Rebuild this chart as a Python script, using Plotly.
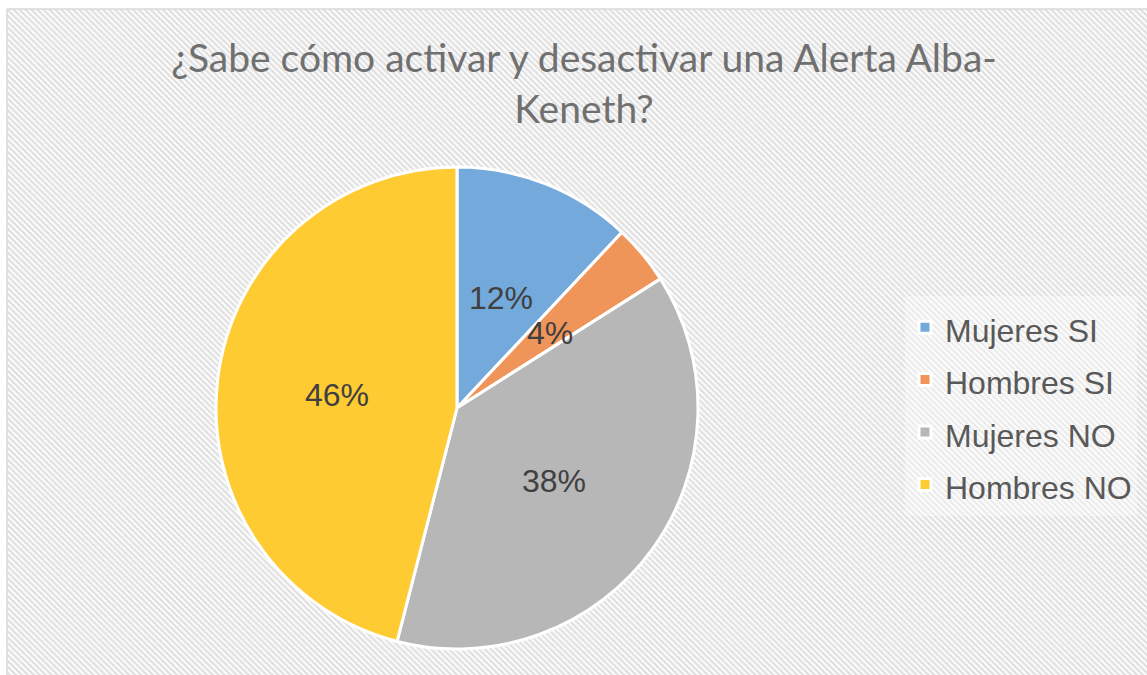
import base64
import math

import plotly.graph_objects as go

# Data
categories = ["Mujeres SI", "Hombres SI", "Mujeres NO", "Hombres NO"]
percentages = [12, 4, 38, 46]
slice_colors = ["#74a9dc", "#f0955a", "#b7b7b7", "#ffcb33"]

title_text = "¿Sabe cómo activar y desactivar una Alerta Alba-<br>Keneth?"

W, H = 1147, 675

# Hatched chart-area background, as an svg pattern
hatch_svg = f"""<svg xmlns='http://www.w3.org/2000/svg' width='{W}' height='{H}'>
<defs><pattern id='p' patternUnits='userSpaceOnUse' width='6' height='6'>
<rect width='6' height='6' fill='#ffffff'/>
<path d='M-1,-1 L7,7 M-1,5 L1,7 M5,-1 L7,1' stroke='#e0e0e0' stroke-width='2.3'/>
</pattern></defs>
<rect x='0' y='0' width='{W}' height='{H}' fill='url(#p)'/>
</svg>"""
hatch_uri = "data:image/svg+xml;base64," + base64.b64encode(hatch_svg.encode()).decode()

# pie geometry (pixels), converted to paper coordinates
cx, cy, r = 457, 408, 241

fig = go.Figure(
    go.Pie(
        labels=[f"<span style='font-size:32px'>{c}</span>" for c in categories],
        values=percentages,
        sort=False,
        direction="clockwise",
        rotation=0,
        marker=dict(colors=slice_colors, line=dict(color="white", width=3)),
        textinfo="none",
        hoverinfo="label+percent",
        domain=dict(x=[(cx - r) / W, (cx + r) / W],
                    y=[1 - (cy + r) / H, 1 - (cy - r) / H]),
    )
)

# data labels, Excel style: half a radius out along each slice's bisector
total = sum(percentages)
cum = 0
for p in percentages:
    mid = (cum + p / 2) / total * 2 * math.pi
    cum += p
    lx = cx + 0.5 * r * math.sin(mid)
    ly = cy - 0.5 * r * math.cos(mid) + 2
    fig.add_annotation(
        x=lx / W, y=1 - ly / H, xref="paper", yref="paper",
        xanchor="center", yanchor="middle",
        text=f"{round(p / total * 100)}%", showarrow=False,
        font=dict(family="Liberation Sans, Arial", size=32, color="#404040"),
    )

fig.update_layout(
    width=W,
    height=H,
    margin=dict(l=0, r=0, t=0, b=0),
    paper_bgcolor="white",
    title=dict(
        text=title_text,
        x=584 / W,
        xanchor="center",
        y=1 - 72 / H,
        yanchor="top",
        font=dict(family="Lato", size=39, color="#707070"),
    ),
    legend=dict(
        x=905 / W,
        xanchor="left",
        y=1 - 406 / H,
        yanchor="middle",
        bgcolor="rgba(255,255,255,0.35)",
        font=dict(family="Liberation Sans, Arial", size=38, color="#595959"),
    ),
    images=[dict(
        source=hatch_uri,
        xref="paper", yref="paper",
        x=7 / W, y=1 - 9 / H,
        sizex=1 - 7 / W, sizey=1 - 9 / H,
        xanchor="left", yanchor="top",
        sizing="stretch",
        layer="below",
    )],
    shapes=[
        dict(type="line", xref="paper", yref="paper",
             x0=7 / W, x1=1, y0=1 - 9 / H, y1=1 - 9 / H,
             line=dict(color="#d9d9d9", width=1.5)),
        dict(type="line", xref="paper", yref="paper",
             x0=7 / W, x1=7 / W, y0=0, y1=1 - 9 / H,
             line=dict(color="#d9d9d9", width=1.5)),
    ],
)

fig.write_html("out.html",
               config={"displayModeBar": False},
               post_script="document.body.style.margin='0';")
